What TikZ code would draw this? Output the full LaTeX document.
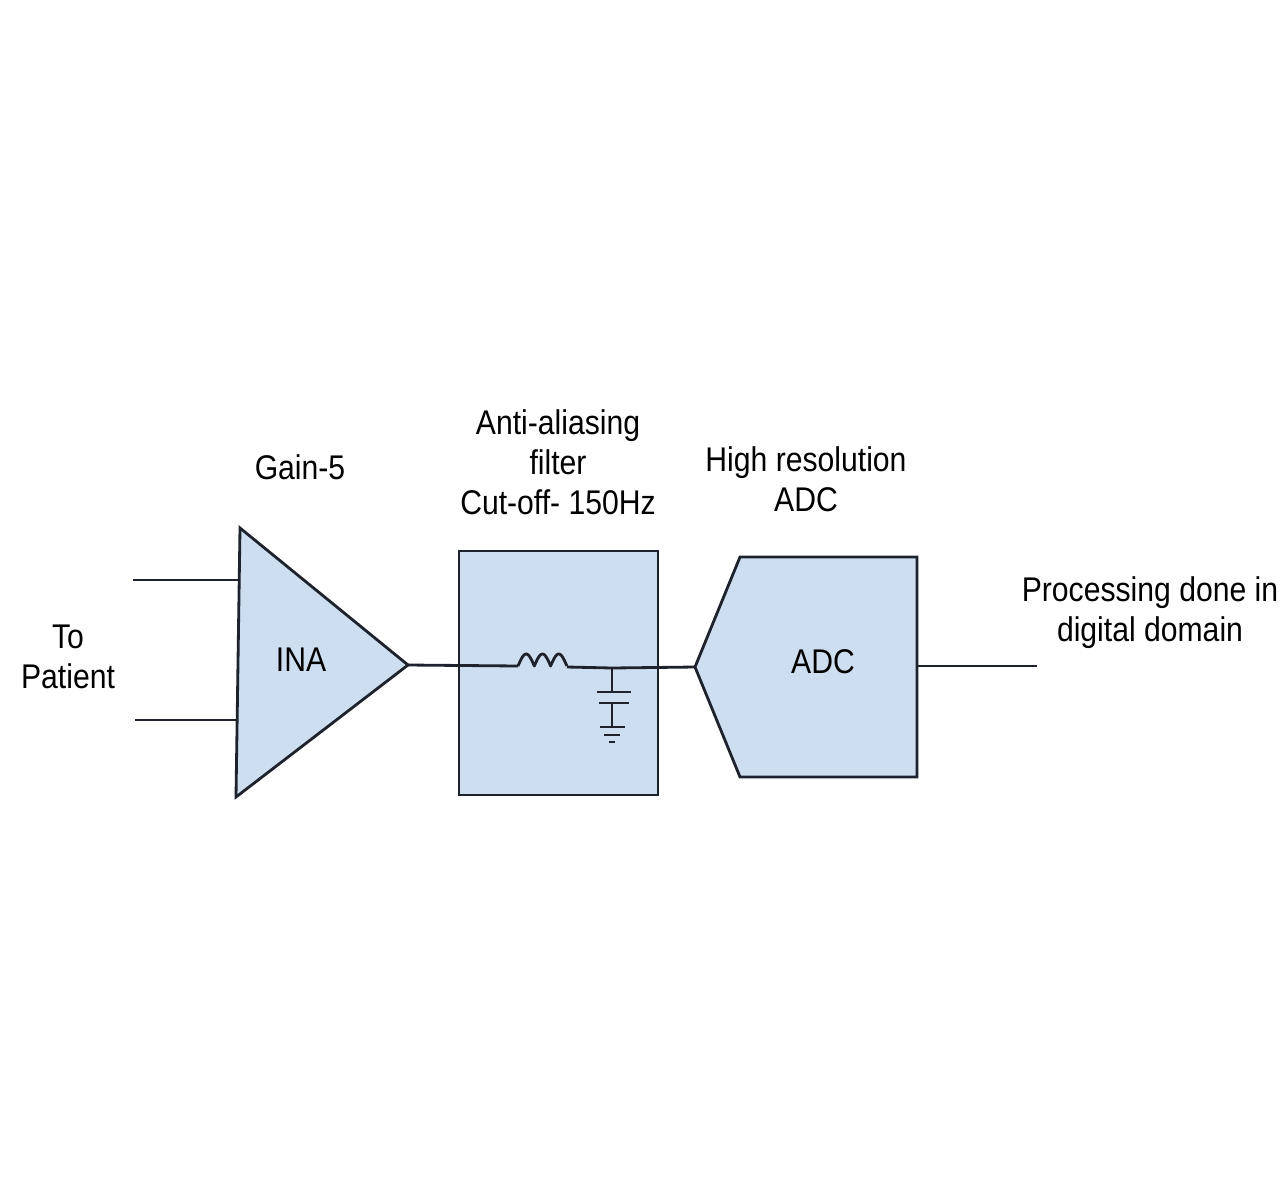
\documentclass[tikz,border=0pt]{standalone}
\usepackage{fontspec}
\setmainfont{Liberation Sans}[FakeStretch=0.88]
\usetikzlibrary{calc}
\definecolor{boxblue}{RGB}{205,222,240}
\definecolor{wire}{RGB}{30,34,44}

\begin{document}
\begin{tikzpicture}[x=0.02cm, y=-0.02cm, line width=1.6pt, draw=wire,
		txt/.style={text=black, align=center, font=\fontsize{19.5}{22.8}\selectfont}]
		\useasboundingbox (0,0) rectangle (1280,1190);
		
		% amplifier
		\coordinate (inaTop) at (240,528);
		\coordinate (inaBot) at (236,797);
		\coordinate (inaOut) at (408,665);
		\filldraw[fill=boxblue] (inaTop) -- (inaOut) -- (inaBot) -- cycle;
		\node[txt] (ina) at (301,660) {INA};
		
		\coordinate (inP) at (133,580);
		\coordinate (inN) at (135,720);
		\draw (inP) -- (240,580);
		\draw (inN) -- (237,720);
		
		% filter
		\filldraw[fill=boxblue] (459,551) rectangle (658,795);
		\coordinate (resL) at (518,666);
		\coordinate (resR) at (567,667);
		\coordinate (capN) at (612,668);
		
		% adc
		\coordinate (adcIn) at (695,667);
		\coordinate (adcOut) at (917,666);
		\coordinate (outEnd) at (1037,666);
		\filldraw[fill=boxblue] (740,557) -- (917,557) -- (917,777) -- (740,777) -- (adcIn) -- cycle;
		\node[txt] (adc) at (823,662) {ADC};
		
		% wiring
		\draw (inaOut) -- (resL);
		\draw[line join=round] plot[domain=0:3, samples=61] ({518+\x*16.3}, {666-12*abs(sin(\x*180))});
		\draw (resR) -- (capN) -- (adcIn);
		\draw (adcOut) -- (outEnd);
		
		\begin{scope}[line width=1.4pt]
			\draw (capN) -- ++(0,24) coordinate (plateA);
			\draw ($(plateA)+(-15,0)$) -- ++(34,0);
			\draw ($(plateA)+(-13,11)$) -- ++(30,0) coordinate (plateB);
			\draw ($(plateA)+(0,11)$) -- ++(0,24) coordinate (gnd);
			\draw ($(gnd)+(-12,0)$) -- ++(25,0);
			\draw ($(gnd)+(-8,8)$) -- ++(16,0);
			\draw ($(gnd)+(-3,15)$) -- ++(6,0);
		\end{scope}
		
		% labels
		\node[txt] (gain) at (300,467) {Gain-5};
		\node[txt] (filt) at (558,462) {Anti-aliasing\\filter\\Cut-off- 150Hz};
		\node[txt] (res) at (806,479) {High resolution\\ADC};
		\node[txt] (proc) at (1150,613) {Processing done in\\digital domain};
		\node[txt] (pat) at (68,657) {To\\Patient};
	\end{tikzpicture}
\end{document}
